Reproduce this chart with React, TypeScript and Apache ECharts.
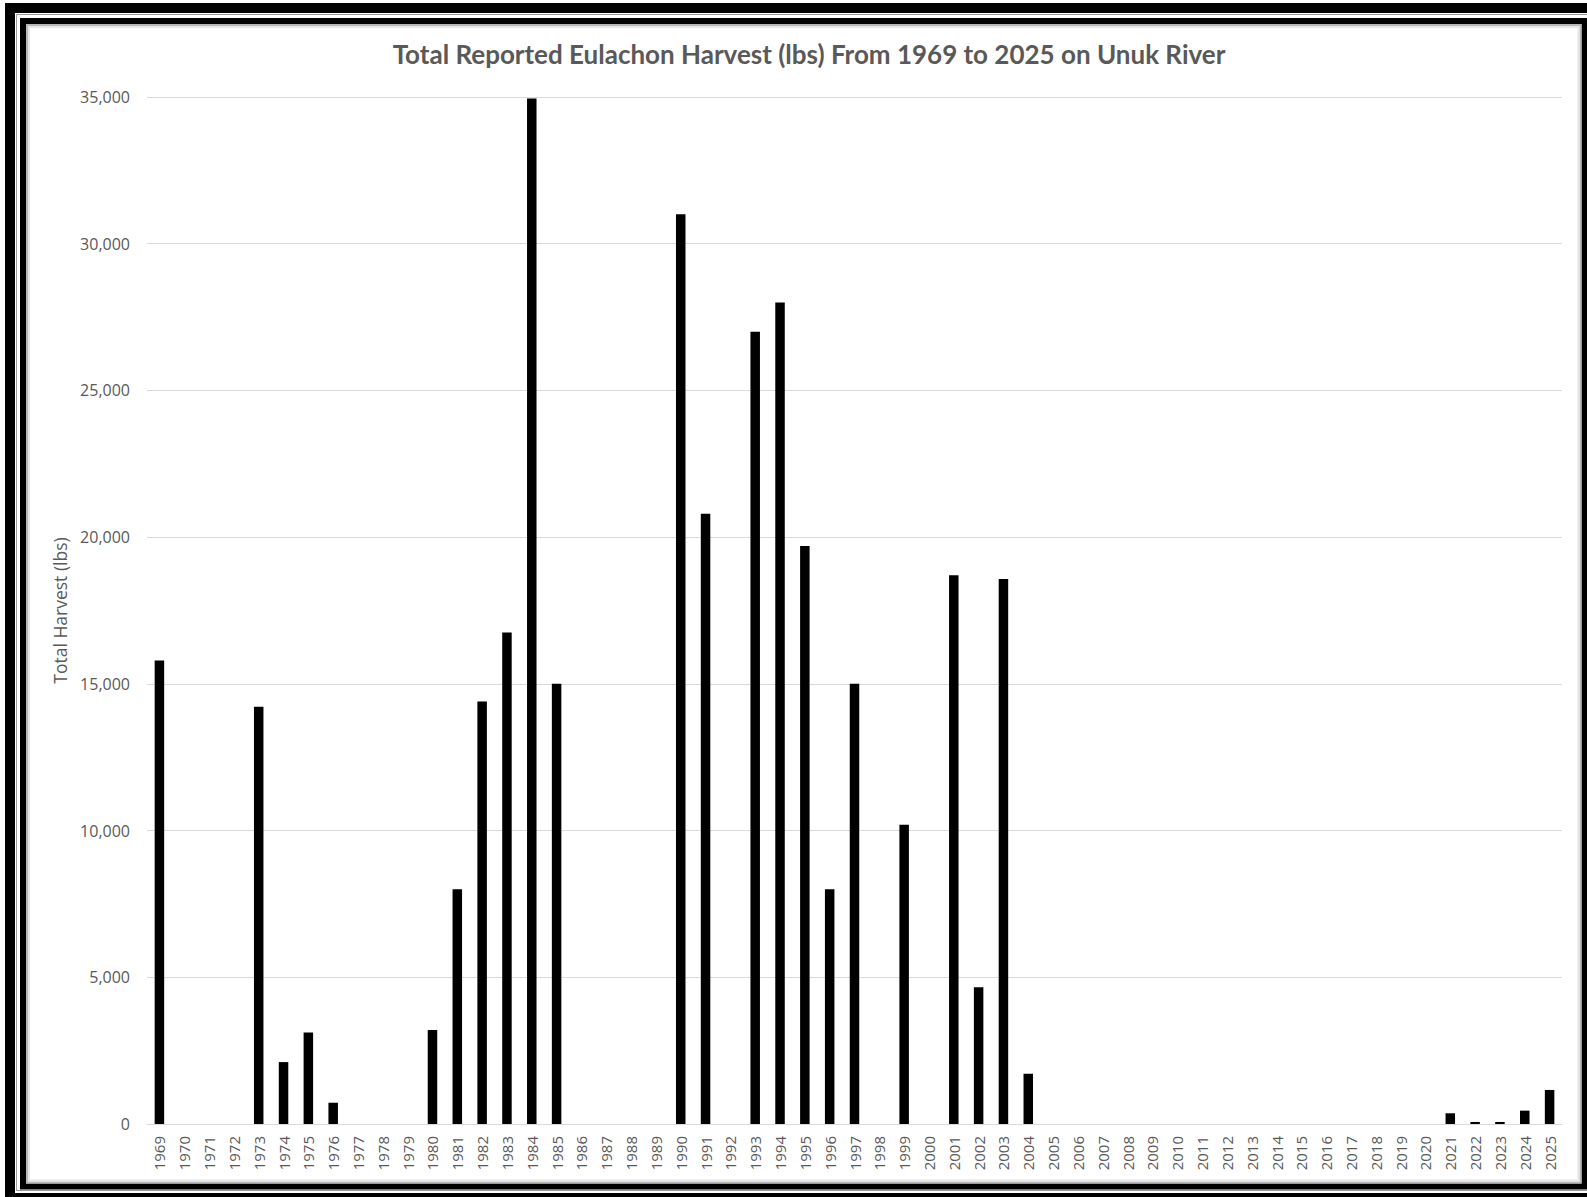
import React, { useEffect, useRef } from "react";
import * as echarts from "echarts";

const years: string[] = [
  "1969","1970","1971","1972","1973","1974","1975","1976","1977","1978",
  "1979","1980","1981","1982","1983","1984","1985","1986","1987","1988",
  "1989","1990","1991","1992","1993","1994","1995","1996","1997","1998",
  "1999","2000","2001","2002","2003","2004","2005","2006","2007","2008",
  "2009","2010","2011","2012","2013","2014","2015","2016","2017","2018",
  "2019","2020","2021","2022","2023","2024","2025",
];

const harvest: number[] = [
  15800, 0, 0, 0, 14220, 2110, 3120, 725, 0, 0,
  0, 3200, 8000, 14400, 16750, 34950, 15000, 0, 0, 0,
  0, 31000, 20800, 0, 27000, 28000, 19700, 8000, 15000, 0,
  10200, 0, 18700, 4660, 18570, 1710, 0, 0, 0, 0,
  0, 0, 0, 0, 0, 0, 0, 0, 0, 0,
  0, 0, 365, 70, 70, 455, 1160,
];

const yTicks = { min: 0, max: 35000, interval: 5000 };

const TITLE = "Total Reported Eulachon Harvest (lbs) From 1969 to 2025 on Unuk River";
const Y_NAME = "Total Harvest (lbs)";

export default function App() {
  const ref = useRef<HTMLDivElement>(null);
  useEffect(() => {
    if (!ref.current) return;
    const chart = echarts.init(ref.current, undefined, { renderer: "svg" });
    chart.setOption({
      animation: false,
      backgroundColor: "#ffffff",
      title: {
        text: TITLE,
        left: 804,
        textAlign: "center",
        top: 36,
        textStyle: {
          fontFamily: "Lato",
          fontWeight: "bold",
          fontSize: 26,
          color: "#595959",
        },
      },
      graphic: [
        {
          type: "rect",
          shape: { x: 10, y: 8, width: 1600, height: 1190 },
          style: { fill: "none", stroke: "#000", lineWidth: 10 },
          silent: true,
        },
        {
          type: "rect",
          shape: { x: 16.5, y: 14.5, width: 1580, height: 1176 },
          style: { fill: "none", stroke: "#9a9a9a", lineWidth: 1 },
          silent: true,
        },
        {
          type: "rect",
          shape: { x: 23, y: 21, width: 1561.5, height: 1165.5 },
          style: { fill: "none", stroke: "#000", lineWidth: 6 },
          silent: true,
        },
        {
          type: "rect",
          shape: { x: 27, y: 25, width: 1553.5, height: 1157.5 },
          style: { fill: "none", stroke: "#b8b8b8", lineWidth: 2 },
          silent: true,
        },
        {
          type: "rect",
          shape: { x: 29, y: 27, width: 1549.5, height: 1153.5 },
          style: { fill: "none", stroke: "#e6e6e6", lineWidth: 2 },
          silent: true,
        },
      ],
      grid: { left: 147, right: 25, top: 97, bottom: 73 },
      xAxis: {
        type: "category",
        data: years,
        axisLine: { show: true, lineStyle: { color: "#d9d9d9", width: 1 } },
        axisTick: { show: false },
        axisLabel: {
          rotate: 90,
          interval: 0,
          margin: 12,
          fontFamily: "Open Sans",
          fontSize: 15,
          color: "#595959",
        },
      },
      yAxis: {
        type: "value",
        min: yTicks.min,
        max: yTicks.max,
        interval: yTicks.interval,
        name: Y_NAME,
        nameLocation: "middle",
        nameGap: 76,
        nameTextStyle: { fontFamily: "Open Sans", fontSize: 17.5, color: "#595959" },
        axisLine: { show: false },
        axisTick: { show: false },
        splitLine: { lineStyle: { color: "#d9d9d9", width: 1 } },
        axisLabel: {
          margin: 17,
          fontFamily: "Open Sans",
          fontSize: 16,
          color: "#595959",
          formatter: (v: number) => v.toLocaleString("en-US"),
        },
      },
      series: [
        {
          type: "bar",
          data: harvest,
          barWidth: 9.5,
          itemStyle: { color: "#000000" },
        },
      ],
    });
    return () => chart.dispose();
  }, []);
  return (
    <div
      ref={ref}
      style={{ position: "absolute", left: 0, top: 0, width: 1587, height: 1197 }}
    />
  );
}
